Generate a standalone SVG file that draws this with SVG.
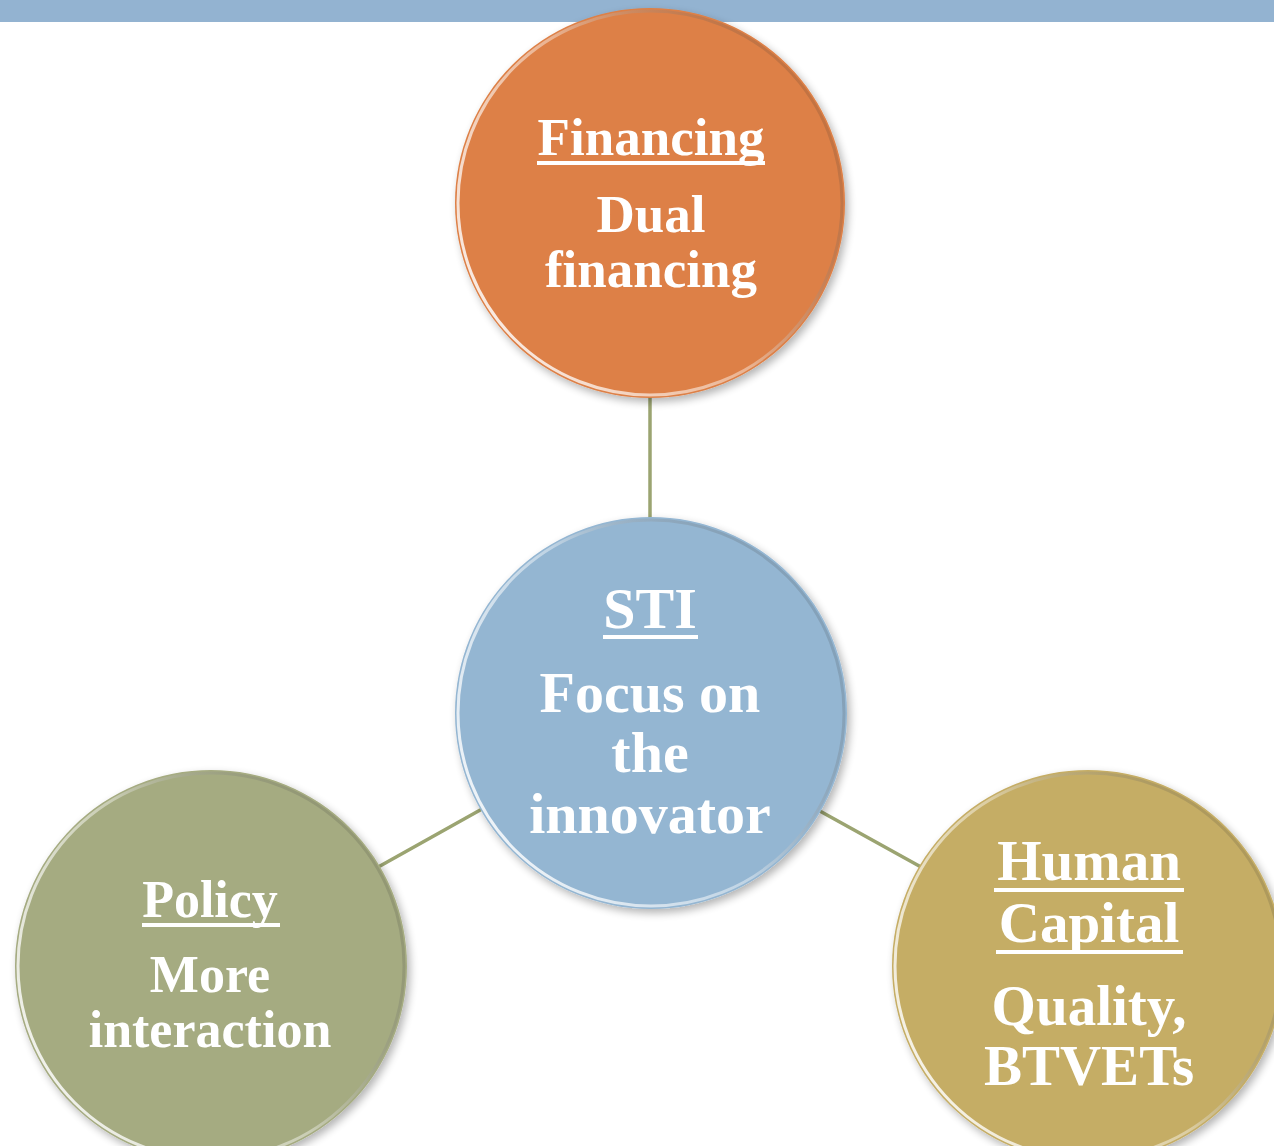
<svg xmlns="http://www.w3.org/2000/svg" width="1274" height="1146" viewBox="0 0 1274 1146">
  <defs>
    <style>
      .lbl { font-family: "Liberation Serif", "Times New Roman", serif; font-weight: bold; fill: #ffffff; text-anchor: middle; }
      .ul { fill: #ffffff; }
      .link { stroke: #9ba471; stroke-width: 3.5; stroke-linecap: round; fill: none; }
      .rim { fill: none; stroke: url(#rimGrad); stroke-width: 3; }
    </style>
    <!-- soft shadow under each disc -->
    <filter id="shadow" x="-20%" y="-20%" width="140%" height="140%">
      <feGaussianBlur in="SourceAlpha" stdDeviation="4"/>
      <feOffset dx="3" dy="4" result="b"/>
      <feComponentTransfer><feFuncA type="linear" slope="0.3"/></feComponentTransfer>
      <feMerge><feMergeNode/><feMergeNode in="SourceGraphic"/></feMerge>
    </filter>
    <!-- light bevel rim, brightest on the lower-left -->
    <linearGradient id="rimGrad" x1="0" y1="0.8" x2="1" y2="0.2">
      <stop offset="0" stop-color="#ffffff" stop-opacity="0.9"/>
      <stop offset="0.5" stop-color="#ffffff" stop-opacity="0.4"/>
      <stop offset="1" stop-color="#000000" stop-opacity="0.1"/>
    </linearGradient>
  </defs>

  <!-- header band -->
  <rect x="0" y="0" width="1274" height="22" fill="#93b3d1"/>

  <!-- connectors -->
  <g id="connectors">
    <line class="link" x1="650" y1="396" x2="650" y2="519"/>
    <line class="link" x1="380" y1="866" x2="482" y2="809"/>
    <line class="link" x1="818" y1="810" x2="921" y2="867"/>
  </g>

  <!-- Financing -->
  <g id="financing">
    <circle cx="650" cy="203" r="195" fill="#dd8047" filter="url(#shadow)"/>
    <circle class="rim" cx="650" cy="203" r="192"/>
    <text class="lbl" x="651" y="155" font-size="53">Financing</text>
    <rect class="ul" x="537" y="161" width="228" height="4"/>
    <text class="lbl" x="651" y="232" font-size="53">Dual</text>
    <text class="lbl" x="651" y="287" font-size="53">financing</text>
  </g>

  <!-- STI (centre) -->
  <g id="sti">
    <circle cx="651" cy="713" r="196" fill="#94b6d2" filter="url(#shadow)"/>
    <circle class="rim" cx="651" cy="713" r="193"/>
    <text class="lbl" x="650" y="628" font-size="58">STI</text>
    <rect class="ul" x="603" y="635" width="95" height="4"/>
    <text class="lbl" x="650" y="712" font-size="58">Focus on</text>
    <text class="lbl" x="650" y="772" font-size="58">the</text>
    <text class="lbl" x="650" y="833" font-size="58">innovator</text>
  </g>

  <!-- Policy -->
  <g id="policy">
    <circle cx="211" cy="966" r="196" fill="#a5ab81" filter="url(#shadow)"/>
    <circle class="rim" cx="211" cy="966" r="193"/>
    <text class="lbl" x="210" y="917" font-size="52">Policy</text>
    <rect class="ul" x="142" y="923" width="138" height="4"/>
    <text class="lbl" x="210" y="992" font-size="52">More</text>
    <text class="lbl" x="210" y="1047" font-size="52">interaction</text>
  </g>

  <!-- Human Capital -->
  <g id="human-capital">
    <circle cx="1088" cy="966" r="196" fill="#c5ad65" filter="url(#shadow)"/>
    <circle class="rim" cx="1088" cy="966" r="193"/>
    <text class="lbl" x="1089" y="880" font-size="57">Human</text>
    <rect class="ul" x="994" y="888" width="190" height="4"/>
    <text class="lbl" x="1089" y="942" font-size="57">Capital</text>
    <rect class="ul" x="996" y="950" width="187" height="4"/>
    <text class="lbl" x="1089" y="1025" font-size="57">Quality,</text>
    <text class="lbl" x="1089" y="1085" font-size="57">BTVETs</text>
  </g>
</svg>
